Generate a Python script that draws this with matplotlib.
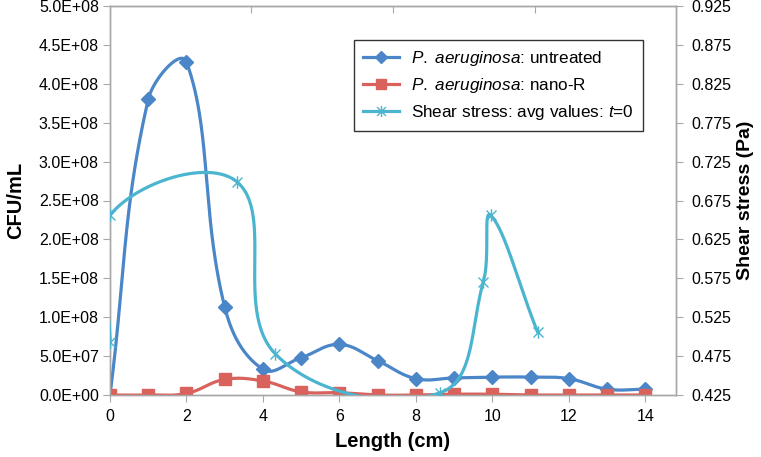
import numpy as np
import matplotlib
matplotlib.use("Agg")
import matplotlib.pyplot as plt
from matplotlib.path import Path
from matplotlib.lines import Line2D
from matplotlib.ticker import FuncFormatter, MultipleLocator, FixedLocator

plt.rcParams['font.family'] = ['Liberation Sans', 'DejaVu Sans']
plt.rcParams['mathtext.fontset'] = 'custom'
plt.rcParams['mathtext.rm'] = 'Liberation Sans'
plt.rcParams['mathtext.it'] = 'Liberation Sans:italic'

# ---- data ----
length_cm = list(range(15))
untreated = [0, 3.80e8, 4.28e8, 1.13e8, 3.3e7, 4.8e7, 6.5e7, 4.4e7, 2.1e7, 2.2e7,
             2.3e7, 2.3e7, 2.1e7, 7.5e6, 7.5e6]
nano_r = [0, 0, 2e6, 2.0e7, 1.8e7, 4e6, 3e6, 0, 0, 1e6, 1e6, 0, 0, 0, 0]
shear_x = [0, 0, 3.32, 4.32, 8.64, 9.76, 9.95, 11.18]
shear_y = [0.493, 0.656, 0.699, 0.478, 0.428, 0.570, 0.656, 0.506]
shear_ticks = [0.425, 0.475, 0.525, 0.575, 0.625, 0.675, 0.725, 0.775, 0.825, 0.875, 0.925]

labels = [r"$\it{P.\ aeruginosa}$: untreated",
          r"$\it{P.\ aeruginosa}$: nano-R",
          r"Shear stress: avg values: $\it{t}$=0"]

c_blue = '#4a86c8'
c_red = '#d9635c'
c_cyan = '#4bb5d0'
c_axis = '#a8a8a8'

W, H = 761, 457
L, R, T, B = 110, 676, 6, 395
xmax = 14.8


def smooth(x, y, sx, sy, n=60, k=0.4):
    # Excel-like smoothing computed in pixel space
    P = np.column_stack([np.asarray(x, float) * sx, np.asarray(y, float) * sy])
    Q = np.vstack([P[0], P, P[-1]])
    out = []
    for i in range(1, len(Q) - 2):
        p0, p1, p2, p3 = Q[i - 1], Q[i], Q[i + 1], Q[i + 2]
        d01 = np.hypot(*(p1 - p0)); d12 = np.hypot(*(p2 - p1)); d23 = np.hypot(*(p3 - p2))
        f1 = d12 / (d01 + d12) if d01 + d12 > 0 else 0
        f2 = d12 / (d12 + d23) if d12 + d23 > 0 else 0
        b0 = p1
        b1 = p1 + (p2 - p0) * f1 * k
        b2 = p2 - (p3 - p1) * f2 * k
        b3 = p2
        t = np.linspace(0, 1, n)[:, None]
        seg = ((1 - t) ** 3) * b0 + 3 * ((1 - t) ** 2) * t * b1 + 3 * (1 - t) * t ** 2 * b2 + t ** 3 * b3
        out.append(seg if i == 1 else seg[1:])
    S = np.vstack(out)
    return S[:, 0] / sx, S[:, 1] / sy


star = Path([(-1, -1), (1, 1), (-1, 1), (1, -1), (0, -1.25), (0, 1.25)],
            [Path.MOVETO, Path.LINETO, Path.MOVETO, Path.LINETO, Path.MOVETO, Path.LINETO])

fig = plt.figure(figsize=(W / 100, H / 100), dpi=100)
ax = fig.add_axes([L / W, 1 - B / H, (R - L) / W, (B - T) / H])
ax2 = ax.twinx()

ax.set_xlim(0, xmax)
ax.set_ylim(0, 5e8)
ax2.set_ylim(0.425, 0.925)

pxx = (R - L) / xmax
pxy1 = (B - T) / 5e8
pxy2 = (B - T) / 0.5

lw = 2.3
sx, sy = smooth(length_cm, untreated, pxx, pxy1)
ax.plot(sx, sy, color=c_blue, lw=lw, solid_capstyle='round', zorder=3)
ax.plot(length_cm, untreated, ls='none', marker='D', ms=7, color=c_blue, zorder=4)
sx, sy = smooth(length_cm, nano_r, pxx, pxy1)
ax.plot(sx, sy, color=c_red, lw=lw, zorder=5)
ax.plot(length_cm, nano_r, ls='none', marker='s', ms=8.5, color=c_red, zorder=6)

sx, sy = smooth(shear_x, shear_y, pxx, pxy2)
ax2.plot(sx, sy, color=c_cyan, lw=lw, solid_capstyle='round', zorder=3)
ax2.plot(shear_x, shear_y, ls='none', marker=star, ms=9, mew=1.0,
         color=c_cyan, mfc='none', zorder=4)

# ticks / spines
for a in (ax, ax2):
    for s in a.spines.values():
        s.set_color(c_axis)
        s.set_linewidth(1.0)
ax.xaxis.set_major_locator(MultipleLocator(2))
ax.yaxis.set_major_locator(MultipleLocator(5e7))
ax.yaxis.set_major_formatter(FuncFormatter(lambda v, p: '{:.1E}'.format(v)))
ax2.yaxis.set_major_locator(FixedLocator(shear_ticks))
ax2.yaxis.set_major_formatter(FuncFormatter(lambda v, p: '{:.3f}'.format(v)))
ax.tick_params(axis='both', colors=c_axis, labelcolor='black', labelsize=11.5,
               length=5, direction='out')
ax.tick_params(axis='y', pad=3)
ax.tick_params(axis='x', pad=5)
ax2.tick_params(axis='y', colors=c_axis, labelcolor='black', labelsize=11.5,
                length=5, direction='out', pad=6)

top = ax.secondary_xaxis('top')
top.set_xticks(np.linspace(0, xmax, 5))
top.tick_params(direction='in', length=5, colors=c_axis, labeltop=False)
top.spines['top'].set_color(c_axis)

ax.set_xlabel('Length (cm)', fontsize=14.5, fontweight='bold', labelpad=6)
ax.set_ylabel('CFU/mL', fontsize=14.5, fontweight='bold', labelpad=10)
ax2.set_ylabel('Shear stress (Pa)', fontsize=14, fontweight='bold', labelpad=4)

handles = [
    Line2D([], [], color=c_blue, lw=lw, marker='D', ms=6),
    Line2D([], [], color=c_red, lw=lw, marker='s', ms=7),
    Line2D([], [], color=c_cyan, lw=lw, marker=star, ms=8, mfc='none', mew=1.0),
]
leg = fig.legend(handles, labels, loc='upper left',
                 bbox_to_anchor=(354 / W, 1 - 40 / H), fontsize=12.3,
                 frameon=True, fancybox=False, edgecolor='black',
                 handlelength=2.1, borderpad=0.55, labelspacing=0.45,
                 handletextpad=0.7, borderaxespad=0)
leg.get_frame().set_linewidth(1.0)

fig.savefig('out.png', dpi=100)
